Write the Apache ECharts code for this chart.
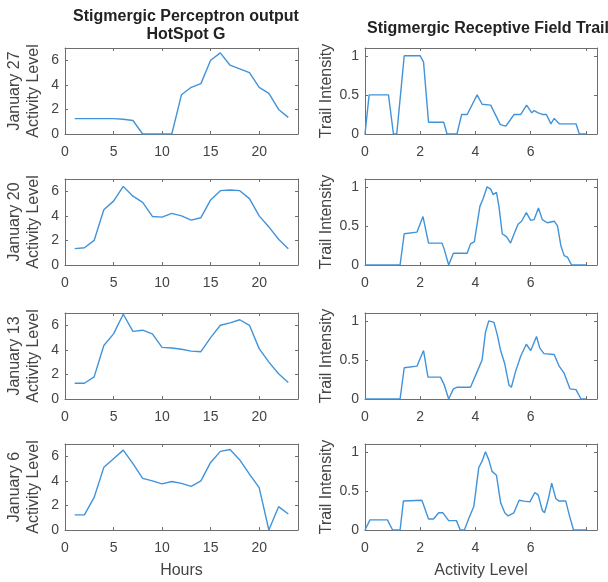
<!DOCTYPE html>
<html>
<head>
<meta charset="utf-8">
<script src="https://cdn.jsdelivr.net/npm/echarts@6/dist/echarts.min.js"></script>
<style>
  html, body { margin: 0; padding: 0; background: #fff; }
  #chart { width: 608px; height: 582px; }
</style>
</head>
<body>
<div id="chart"></div>
<script>
// hours on the left column
const hours = [1, 2, 3, 4, 5, 6, 7, 8, 9, 10, 11, 12, 13, 14, 15, 16, 17, 18, 19, 20, 21, 22, 23];
const dayLabels = ['January 27', 'January 20', 'January 13', 'January 6'];

// perceptron output (activity level) per hour
const act27 = [1.25, 1.25, 1.25, 1.25, 1.25, 1.2, 1.1, 0, 0, 0, 0, 3.2, 3.8, 4.1, 6.0, 6.6, 5.6, 5.3, 5.0, 3.8, 3.3, 2.0, 1.35];
const act20 = [1.33, 1.4, 2.0, 4.5, 5.2, 6.4, 5.6, 5.1, 3.95, 3.9, 4.2, 4.0, 3.65, 3.85, 5.3, 6.05, 6.1, 6.05, 5.4, 4.0, 3.1, 2.1, 1.33];
const act13 = [1.28, 1.28, 1.8, 4.35, 5.3, 6.9, 5.5, 5.6, 5.3, 4.2, 4.15, 4.05, 3.9, 3.85, 5.0, 6.0, 6.2, 6.45, 6.0, 4.1, 3.0, 2.05, 1.35];
const act6 = [1.23, 1.23, 2.65, 5.1, 5.8, 6.5, 5.4, 4.2, 4.0, 3.75, 3.95, 3.8, 3.55, 4.0, 5.5, 6.4, 6.55, 5.7, 4.55, 3.45, 0, 1.9, 1.3];

// receptive field trail: activity level (x) and trail intensity (y)
const trailX27 = [0, 0.15, 0.85, 1.03, 1.15, 1.42, 2.0, 2.12, 2.3, 2.85, 2.97, 3.33, 3.5, 3.7, 4.06, 4.24, 4.55, 4.9, 5.1, 5.2, 5.4, 5.64, 5.85, 6.04, 6.12, 6.27, 6.42, 6.57, 6.73, 6.85, 7.03, 7.64, 7.76, 8.0];
const trailY27 = [0, 0.5, 0.5, 0, 0, 1.0, 1.0, 0.92, 0.15, 0.15, 0, 0, 0.25, 0.25, 0.5, 0.38, 0.37, 0.12, 0.1, 0.15, 0.25, 0.25, 0.37, 0.27, 0.3, 0.27, 0.25, 0.25, 0.13, 0.2, 0.13, 0.13, 0, 0];

const trailX20 = [0, 1.27, 1.42, 1.88, 2.1, 2.3, 2.79, 2.87, 3.03, 3.2, 3.7, 3.82, 3.96, 4.16, 4.28, 4.42, 4.55, 4.64, 4.76, 4.85, 4.97, 5.13, 5.27, 5.4, 5.54, 5.67, 5.84, 6.0, 6.12, 6.28, 6.42, 6.6, 6.85, 6.97, 7.09, 7.21, 7.33, 7.48, 8.0];
const trailY20 = [0, 0, 0.4, 0.42, 0.62, 0.28, 0.28, 0.2, 0, 0.15, 0.15, 0.27, 0.3, 0.75, 0.85, 1.0, 0.97, 0.9, 0.93, 0.75, 0.4, 0.36, 0.28, 0.4, 0.52, 0.56, 0.67, 0.57, 0.58, 0.73, 0.58, 0.54, 0.56, 0.5, 0.25, 0.12, 0.1, 0, 0];

const trailX13 = [0, 1.27, 1.42, 1.88, 2.12, 2.28, 2.73, 2.87, 3.03, 3.2, 3.33, 3.82, 4.06, 4.24, 4.36, 4.48, 4.67, 4.79, 4.91, 5.06, 5.21, 5.3, 5.45, 5.64, 5.84, 6.0, 6.21, 6.33, 6.48, 6.85, 7.03, 7.21, 7.42, 7.64, 7.82, 8.0];
const trailY13 = [0, 0, 0.4, 0.42, 0.62, 0.28, 0.28, 0.18, 0, 0.13, 0.15, 0.15, 0.35, 0.5, 0.85, 1.0, 0.98, 0.82, 0.62, 0.45, 0.18, 0.15, 0.35, 0.55, 0.7, 0.62, 0.8, 0.65, 0.58, 0.57, 0.42, 0.33, 0.13, 0.12, 0, 0];

const trailX6 = [0, 0.18, 0.81, 1.0, 1.27, 1.39, 2.06, 2.12, 2.3, 2.48, 2.67, 2.82, 3.03, 3.31, 3.45, 3.6, 3.76, 3.94, 4.12, 4.24, 4.36, 4.48, 4.6, 4.76, 4.91, 5.06, 5.18, 5.39, 5.58, 5.76, 5.97, 6.15, 6.27, 6.42, 6.5, 6.64, 6.76, 6.91, 7.03, 7.27, 7.39, 7.55, 8.0];
const trailY6 = [0, 0.13, 0.13, 0, 0, 0.37, 0.38, 0.4, 0.14, 0.14, 0.22, 0.22, 0.12, 0.12, 0, 0, 0.15, 0.3, 0.8, 0.88, 1.0, 0.9, 0.75, 0.7, 0.35, 0.22, 0.18, 0.22, 0.38, 0.37, 0.36, 0.48, 0.45, 0.25, 0.22, 0.4, 0.6, 0.4, 0.37, 0.37, 0.2, 0, 0];

const actRows = [act27, act20, act13, act6];
const trailRows = [[trailX27, trailY27], [trailX20, trailY20], [trailX13, trailY13], [trailX6, trailY6]];

const rowTops = [48, 179, 313, 444];
const rowHeight = 86;
const lineColor = '#4193da';
const textColor = '#444';
const boxColor = '#6e6e6e';
const font = 'Liberation Sans, Arial, sans-serif';

function zip(xs, ys) {
    return xs.map(function (x, i) { return [x, ys[i]]; });
}

let grids = [], xAxes = [], yAxes = [], series = [];

function addPanel(left, width, top, xCfg, yCfg, yName, xName, data) {
    let g = grids.length;
    grids.push({left: left, top: top, width: width, height: rowHeight});
    let tick = {show: true, inside: true, length: 3, lineStyle: {color: boxColor}};
    let line = {show: true, onZero: false, lineStyle: {color: boxColor, width: 1}};
    let label = {color: textColor, fontSize: 14, fontFamily: font, showMaxLabel: false};
    // bottom / left axes with labels
    xAxes.push(Object.assign({
        type: 'value', gridIndex: g, position: 'bottom', splitLine: {show: false},
        axisLine: line, axisTick: tick,
        axisLabel: Object.assign({margin: 11}, label, xCfg.label || {}),
        name: xName, nameLocation: 'middle', nameGap: 33,
        nameTextStyle: {color: textColor, fontSize: 16, fontFamily: font}
    }, xCfg.scale));
    yAxes.push(Object.assign({
        type: 'value', gridIndex: g, position: 'left', splitLine: {show: false},
        axisLine: line, axisTick: tick,
        axisLabel: Object.assign({margin: 6}, label),
        name: yName, nameLocation: 'middle', nameRotate: 90, nameGap: yCfg.gap,
        nameTextStyle: {color: textColor, fontSize: 16, fontFamily: font, lineHeight: 19}
    }, yCfg.scale));
    // mirrored top / right axes (ticks only)
    xAxes.push(Object.assign({
        type: 'value', gridIndex: g, position: 'top', splitLine: {show: false},
        axisLine: line, axisTick: tick, axisLabel: {show: false}
    }, xCfg.scale));
    yAxes.push(Object.assign({
        type: 'value', gridIndex: g, position: 'right', splitLine: {show: false},
        axisLine: line, axisTick: tick, axisLabel: {show: false}
    }, yCfg.scale));
    series.push({
        type: 'line', xAxisIndex: xAxes.length - 2, yAxisIndex: yAxes.length - 2,
        data: data, showSymbol: false, symbol: 'none', silent: true,
        lineStyle: {color: lineColor, width: 1.4}
    });
}

for (let r = 0; r < 4; r++) {
    let last = r === 3;
    addPanel(65, 233, rowTops[r],
        {scale: {min: 0, max: 24, interval: 5}},
        {scale: {min: 0, max: 7, interval: 2}, gap: 22},
        dayLabels[r] + '\nActivity Level', last ? 'Hours' : '',
        zip(hours, actRows[r]));
    addPanel(365, 232, rowTops[r],
        {scale: {min: 0, max: 8.4, interval: 2},
         label: {formatter: function (v) { return v >= 8 ? '' : String(v); }}},
        {scale: {min: 0, max: 1.1, interval: 0.5}, gap: 29},
        'Trail Intensity', last ? 'Activity Level' : '',
        zip(trailRows[r][0], trailRows[r][1]));
}

const option = {
    backgroundColor: '#fff',
    animation: false,
    title: [
        {
            text: 'Stigmergic Perceptron output\nHotSpot G', left: 181, top: 3, textAlign: 'center',
            textStyle: {color: '#222', fontSize: 16, fontWeight: 'bold', fontFamily: font, lineHeight: 18}
        },
        {
            text: 'Stigmergic Receptive Field Trail', left: 483, top: 15, textAlign: 'center',
            textStyle: {color: '#222', fontSize: 16, fontWeight: 'bold', fontFamily: font, lineHeight: 18}
        }
    ],
    grid: grids,
    xAxis: xAxes,
    yAxis: yAxes,
    series: series
};

let myChart = echarts.init(document.getElementById('chart'));
myChart.setOption(option);
</script>
</body>
</html>
